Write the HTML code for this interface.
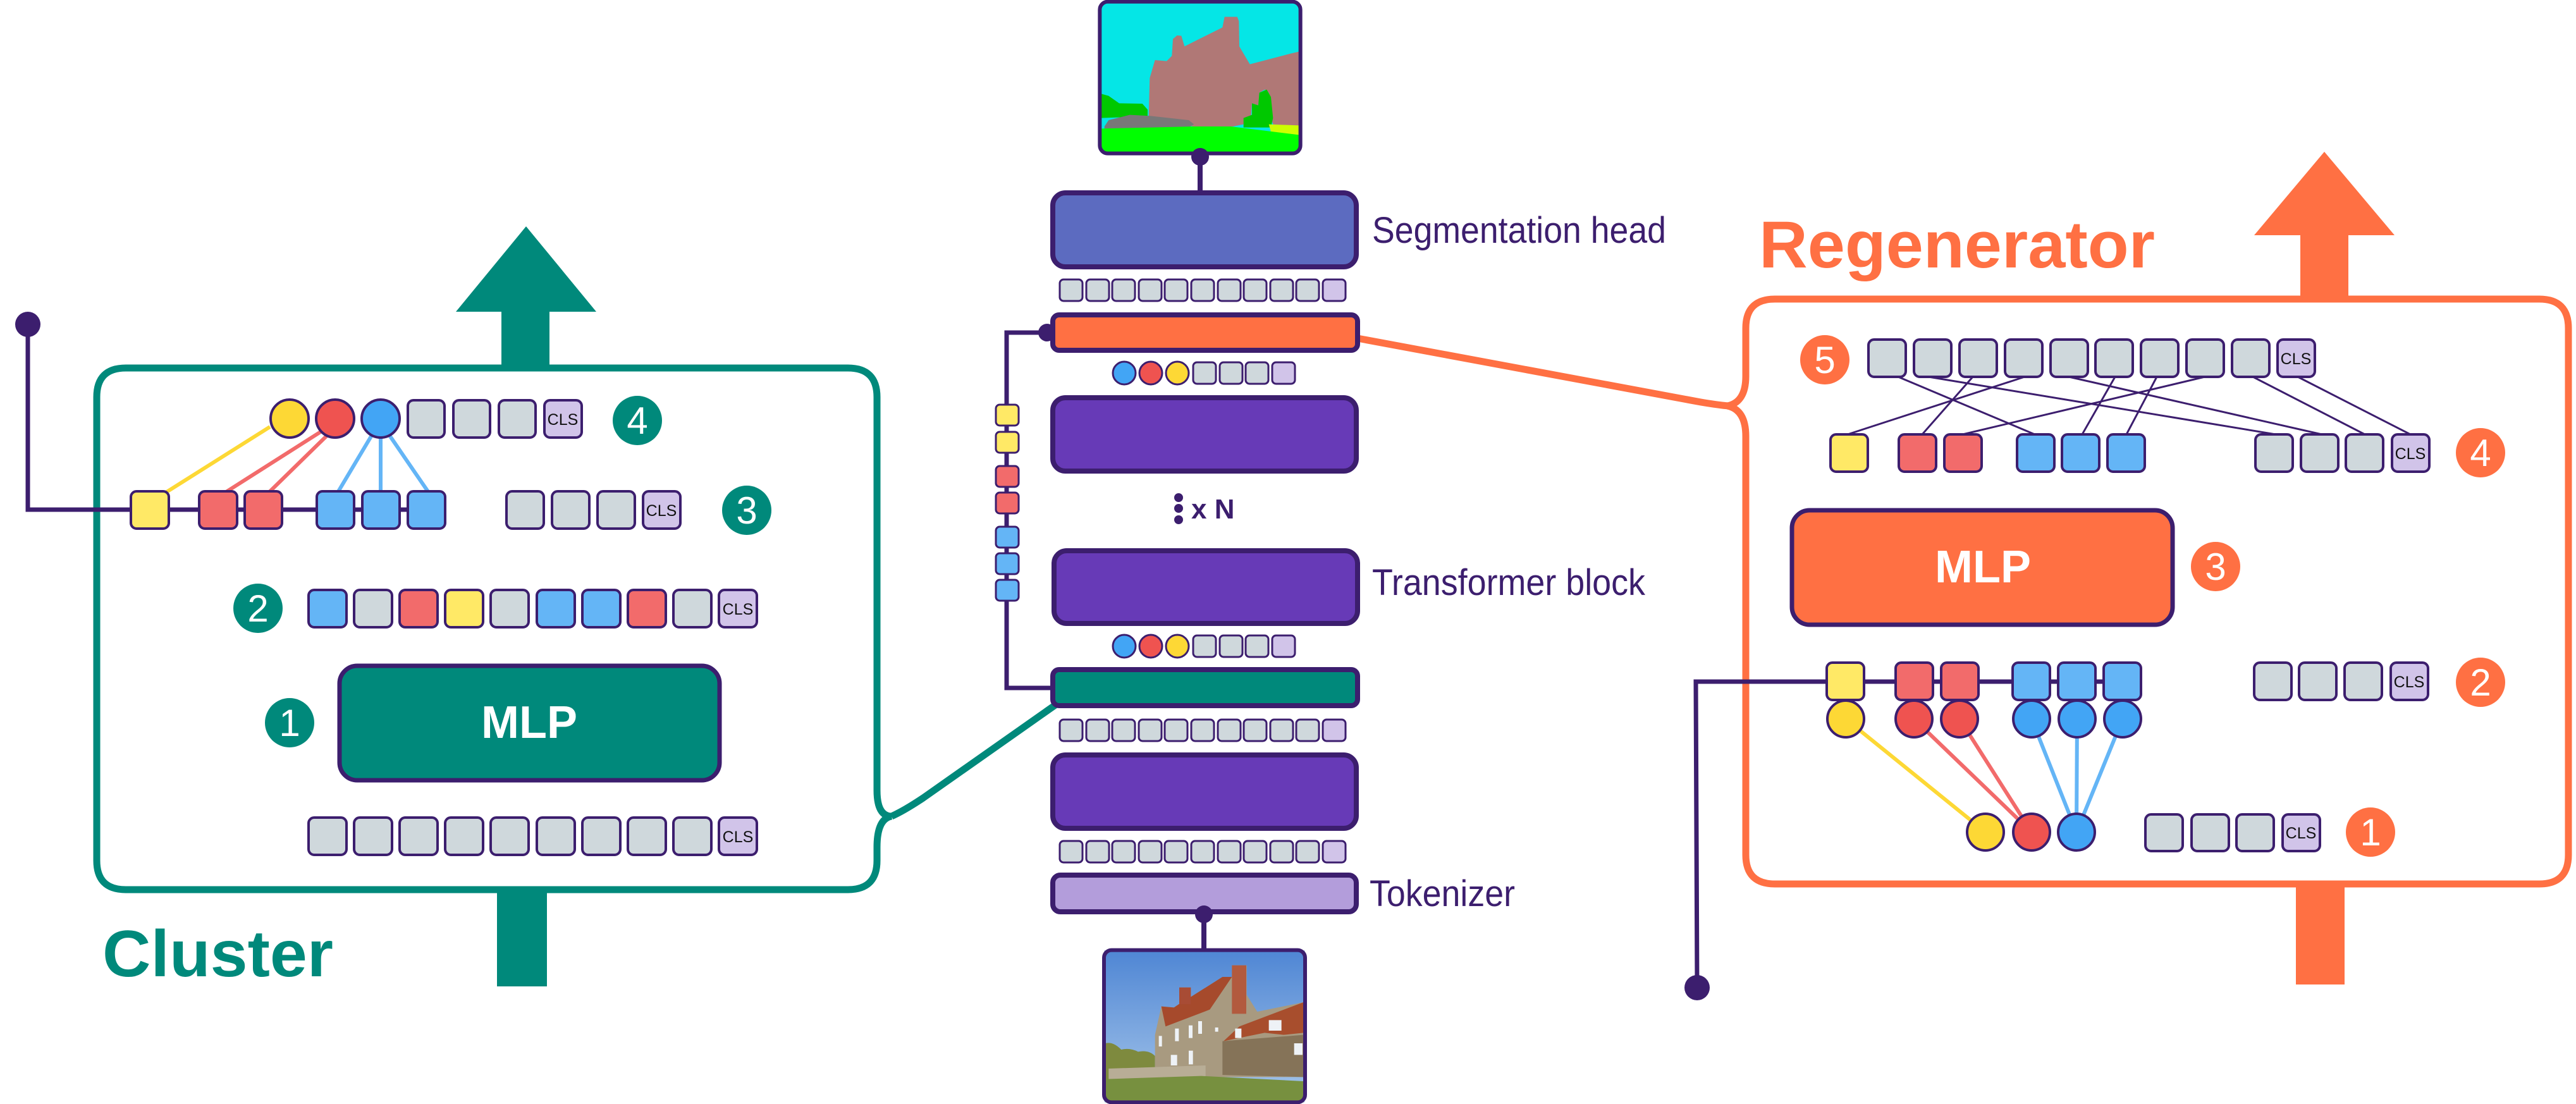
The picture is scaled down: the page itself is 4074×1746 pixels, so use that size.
<!DOCTYPE html>
<html><head><meta charset="utf-8"><style>
html,body{margin:0;padding:0;background:#fff;}
svg{display:block;}
text{font-family:"Liberation Sans",sans-serif;}
</style></head><body>
<svg width="4074" height="1746" viewBox="0 0 4074 1746" xmlns="http://www.w3.org/2000/svg">
<defs>
<linearGradient id="sky" x1="0" y1="0" x2="0" y2="1"><stop offset="0" stop-color="#4f86d4"/><stop offset="1" stop-color="#a6c6ea"/></linearGradient>
</defs>

<!-- ================= CENTER COLUMN ================= -->
<!-- segmentation image -->
<g transform="translate(1720,0) scale(0.33333)">
<rect x="65" y="15" width="940" height="710" fill="#05e6e6"/>
<polygon fill="#b07876" points="290,550 295,370 320,285 375,290 400,265 405,185 425,168 445,170 460,220 530,185 640,130 650,80 710,80 718,100 720,220 770,305 960,255 1003,245 1003,600 880,590 870,560 860,440 840,425 815,440 810,500 780,490 775,560 740,590 690,600 500,600"/>
<polygon fill="#00c800" points="65,445 100,455 150,490 260,492 285,520 285,550 200,555 65,560"/>
<polygon fill="#787878" points="80,600 100,570 200,545 300,550 480,570 505,590 480,605 80,615"/>
<polygon fill="#00c800" points="740,560 780,545 780,490 810,500 815,440 850,425 870,460 880,560 870,605 740,605"/>
<polygon fill="#ccff00" points="860,590 1003,595 1003,640 870,625"/>
<polygon fill="#00ff00" points="65,610 300,605 500,600 680,600 1003,640 1003,722 65,722"/>
<rect x="58" y="8" width="952" height="720" rx="38" fill="none" stroke="#3c1e6e" stroke-width="18"/>
</g>
<circle cx="1898" cy="248" r="14" fill="#3c1e6e"/>
<line x1="1898" y1="245" x2="1898" y2="305" stroke="#3c1e6e" stroke-width="8"/>

<!-- Segmentation head -->
<rect x="1665" y="305" width="480" height="117" rx="20" fill="#5c6bc0" stroke="#3c1e6e" stroke-width="8"/>
<text x="2170" y="384" font-size="58" fill="#3c1e6e" textLength="465" lengthAdjust="spacingAndGlyphs">Segmentation head</text>

<!-- token rows center -->
<g stroke="#3c1e6e" stroke-width="3">
<g fill="#cfd8dc">
<rect x="1676" y="442" width="36" height="34" rx="6"/><rect x="1718" y="442" width="36" height="34" rx="6"/><rect x="1759" y="442" width="36" height="34" rx="6"/><rect x="1801" y="442" width="36" height="34" rx="6"/><rect x="1842" y="442" width="36" height="34" rx="6"/><rect x="1884" y="442" width="36" height="34" rx="6"/><rect x="1926" y="442" width="36" height="34" rx="6"/><rect x="1967" y="442" width="36" height="34" rx="6"/><rect x="2009" y="442" width="36" height="34" rx="6"/><rect x="2050" y="442" width="36" height="34" rx="6"/>
<rect x="1676" y="1138" width="36" height="34" rx="6"/><rect x="1718" y="1138" width="36" height="34" rx="6"/><rect x="1759" y="1138" width="36" height="34" rx="6"/><rect x="1801" y="1138" width="36" height="34" rx="6"/><rect x="1842" y="1138" width="36" height="34" rx="6"/><rect x="1884" y="1138" width="36" height="34" rx="6"/><rect x="1926" y="1138" width="36" height="34" rx="6"/><rect x="1967" y="1138" width="36" height="34" rx="6"/><rect x="2009" y="1138" width="36" height="34" rx="6"/><rect x="2050" y="1138" width="36" height="34" rx="6"/>
<rect x="1676" y="1330" width="36" height="34" rx="6"/><rect x="1718" y="1330" width="36" height="34" rx="6"/><rect x="1759" y="1330" width="36" height="34" rx="6"/><rect x="1801" y="1330" width="36" height="34" rx="6"/><rect x="1842" y="1330" width="36" height="34" rx="6"/><rect x="1884" y="1330" width="36" height="34" rx="6"/><rect x="1926" y="1330" width="36" height="34" rx="6"/><rect x="1967" y="1330" width="36" height="34" rx="6"/><rect x="2009" y="1330" width="36" height="34" rx="6"/><rect x="2050" y="1330" width="36" height="34" rx="6"/>
<rect x="1887" y="573" width="36" height="34" rx="6"/><rect x="1929" y="573" width="36" height="34" rx="6"/><rect x="1970" y="573" width="36" height="34" rx="6"/>
<rect x="1887" y="1005" width="36" height="34" rx="6"/><rect x="1929" y="1005" width="36" height="34" rx="6"/><rect x="1970" y="1005" width="36" height="34" rx="6"/>
</g>
<g fill="#d1c4e9">
<rect x="2092" y="442" width="36" height="34" rx="6"/><rect x="2092" y="1138" width="36" height="34" rx="6"/><rect x="2092" y="1330" width="36" height="34" rx="6"/>
<rect x="2012" y="573" width="36" height="34" rx="6"/><rect x="2012" y="1005" width="36" height="34" rx="6"/>
</g>
<circle cx="1778" cy="590" r="18" fill="#42a5f5"/><circle cx="1820" cy="590" r="18" fill="#ef5350"/><circle cx="1862" cy="590" r="18" fill="#fdd835"/>
<circle cx="1778" cy="1022" r="18" fill="#42a5f5"/><circle cx="1820" cy="1022" r="18" fill="#ef5350"/><circle cx="1862" cy="1022" r="18" fill="#fdd835"/>
</g>

<!-- side bracket line with tokens -->
<polyline points="1663,526 1592,526 1592,1088 1663,1088" fill="none" stroke="#3c1e6e" stroke-width="7"/>
<circle cx="1656" cy="526" r="14" fill="#3c1e6e"/>
<g stroke="#3c1e6e" stroke-width="3">
<rect x="1575" y="640" width="36" height="33" rx="6" fill="#ffe966"/>
<rect x="1575" y="683" width="36" height="33" rx="6" fill="#ffe966"/>
<rect x="1575" y="737" width="36" height="33" rx="6" fill="#f26b6b"/>
<rect x="1575" y="779" width="36" height="33" rx="6" fill="#f26b6b"/>
<rect x="1575" y="833" width="36" height="33" rx="6" fill="#64b5f6"/>
<rect x="1575" y="875" width="36" height="33" rx="6" fill="#64b5f6"/>
<rect x="1575" y="917" width="36" height="33" rx="6" fill="#64b5f6"/>
</g>

<!-- connectors to side boxes -->
<path d="M2147,535 L2690,636 Q2720,641 2734,642" fill="none" stroke="#ff7043" stroke-width="11"/>
<path d="M1669,1115 L1460,1262 Q1430,1282 1410,1291" fill="none" stroke="#00897b" stroke-width="11"/>

<!-- orange bar -->
<rect x="1665" y="498" width="482" height="56" rx="10" fill="#ff7043" stroke="#3c1e6e" stroke-width="8"/>
<!-- purple box 1 -->
<rect x="1665" y="629" width="480" height="116" rx="20" fill="#673ab7" stroke="#3c1e6e" stroke-width="8"/>
<!-- x N -->
<circle cx="1864" cy="787" r="7" fill="#3c1e6e"/><circle cx="1864" cy="804" r="7" fill="#3c1e6e"/><circle cx="1864" cy="822" r="7" fill="#3c1e6e"/>
<text x="1884" y="820" font-size="44" font-weight="bold" fill="#3c1e6e">x N</text>
<!-- transformer -->
<rect x="1667" y="871" width="480" height="115" rx="20" fill="#673ab7" stroke="#3c1e6e" stroke-width="8"/>
<text x="2170" y="941" font-size="58" fill="#3c1e6e" textLength="432" lengthAdjust="spacingAndGlyphs">Transformer block</text>
<!-- green bar -->
<rect x="1665" y="1059" width="482" height="57" rx="10" fill="#00897b" stroke="#3c1e6e" stroke-width="8"/>
<!-- purple box 3 -->
<rect x="1665" y="1194" width="480" height="116" rx="20" fill="#673ab7" stroke="#3c1e6e" stroke-width="8"/>
<!-- tokenizer -->
<rect x="1665" y="1384" width="480" height="58" rx="12" fill="#b39ddb" stroke="#3c1e6e" stroke-width="8"/>
<text x="2166" y="1433" font-size="58" fill="#3c1e6e" textLength="230" lengthAdjust="spacingAndGlyphs">Tokenizer</text>
<circle cx="1904" cy="1446" r="14" fill="#3c1e6e"/>
<line x1="1904" y1="1446" x2="1904" y2="1505" stroke="#3c1e6e" stroke-width="8"/>

<!-- photo -->
<g transform="translate(1700,1490) scale(0.33333)">
<rect x="140" y="40" width="950" height="720" fill="url(#sky)"/>
<path d="M145,480 Q180,470 220,510 Q260,500 300,520 Q350,510 380,540 L380,660 L145,660 Z" fill="#7e8a3e"/>
<polygon points="380,590 380,440 410,305 470,310 500,290 500,215 550,215 550,260 700,165 745,165 745,110 815,110 815,250 865,330 1085,285 1085,640 380,640" fill="#a89a80"/>
<polygon points="410,305 470,310 500,290 550,260 700,165 745,165 640,320 430,400" fill="#a64a2c"/>
<polygon points="705,470 780,400 1085,285 1085,430 990,440 900,430" fill="#a84e2d"/>
<rect x="745" y="110" width="68" height="230" fill="#b25a3e"/>
<rect x="495" y="215" width="55" height="80" fill="#a84c35"/>
<polygon points="700,470 1085,440 1085,640 700,630" fill="#857358"/>
<polygon points="160,600 620,585 620,645 160,650" fill="#b8ad96"/>
<g fill="#eef2f6"><rect x="475" y="410" width="18" height="60"/><rect x="540" y="395" width="18" height="60"/><rect x="585" y="375" width="18" height="60"/><rect x="398" y="445" width="15" height="50"/><rect x="540" y="515" width="20" height="65"/><rect x="455" y="535" width="30" height="50"/><rect x="760" y="410" width="30" height="45"/><rect x="920" y="370" width="60" height="50"/><rect x="1040" y="480" width="40" height="55"/><rect x="665" y="405" width="15" height="20"/></g>
<polygon points="145,650 600,635 1085,660 1085,760 145,760" fill="#77903f"/>
<rect x="138" y="38" width="954" height="722" rx="36" fill="none" stroke="#3c1e6e" stroke-width="18"/>
</g>

<!-- ================= CLUSTER (LEFT) ================= -->
<path d="M199,582 L1341,582 Q1387,582 1387,628 L1387,1250 Q1387,1291 1410,1291 Q1387,1295 1387,1340 L1387,1361 Q1387,1407 1341,1407 L199,1407 Q153,1407 153,1361 L153,628 Q153,582 199,582 Z" fill="none" stroke="#00897b" stroke-width="11"/>
<rect x="793" y="490" width="76" height="95" fill="#00897b"/>
<polygon points="721,493 943,493 832,358" fill="#00897b"/>
<rect x="786" y="1410" width="79" height="150" fill="#00897b"/>
<text x="162" y="1544" font-size="104" font-weight="bold" fill="#00897b" textLength="365" lengthAdjust="spacingAndGlyphs">Cluster</text>

<!-- dark connector -->
<circle cx="44" cy="513" r="20" fill="#3c1e6e"/>
<polyline points="44,513 44,806 700,806" fill="none" stroke="#3c1e6e" stroke-width="7"/>

<!-- row 4 lines -->
<g stroke-width="6" fill="none">
<line x1="427" y1="675" x2="262" y2="779" stroke="#fdd835"/>
<line x1="507" y1="683" x2="356" y2="779" stroke="#f26b6b"/>
<line x1="516" y1="690" x2="425" y2="779" stroke="#f26b6b"/>
<line x1="587" y1="690" x2="534" y2="779" stroke="#64b5f6"/>
<line x1="602" y1="691" x2="602" y2="779" stroke="#64b5f6"/>
<line x1="617" y1="690" x2="678" y2="779" stroke="#64b5f6"/>
</g>

<g stroke="#3c1e6e" stroke-width="4">
<circle cx="458" cy="662" r="30" fill="#fdd835"/><circle cx="530" cy="662" r="30" fill="#ef5350"/><circle cx="602" cy="662" r="30" fill="#42a5f5"/>
<rect x="645" y="633" width="58" height="59" rx="9" fill="#cfd8dc"/><rect x="717" y="633" width="58" height="59" rx="9" fill="#cfd8dc"/><rect x="789" y="633" width="58" height="59" rx="9" fill="#cfd8dc"/><rect x="861" y="633" width="59" height="59" rx="9" fill="#d1c4e9"/>
<!-- row 3 -->
<rect x="207" y="777" width="60" height="59" rx="9" fill="#ffe966"/>
<rect x="315" y="777" width="60" height="59" rx="9" fill="#f26b6b"/><rect x="387" y="777" width="59" height="59" rx="9" fill="#f26b6b"/>
<rect x="501" y="777" width="59" height="59" rx="9" fill="#64b5f6"/><rect x="573" y="777" width="59" height="59" rx="9" fill="#64b5f6"/><rect x="645" y="777" width="59" height="59" rx="9" fill="#64b5f6"/>
<rect x="801" y="777" width="59" height="59" rx="9" fill="#cfd8dc"/><rect x="873" y="777" width="59" height="59" rx="9" fill="#cfd8dc"/><rect x="945" y="777" width="59" height="59" rx="9" fill="#cfd8dc"/><rect x="1017" y="777" width="59" height="59" rx="9" fill="#d1c4e9"/>
<!-- row 2 -->
<rect x="488" y="933" width="60" height="59" rx="9" fill="#64b5f6"/><rect x="560" y="933" width="60" height="59" rx="9" fill="#cfd8dc"/><rect x="632" y="933" width="60" height="59" rx="9" fill="#f26b6b"/><rect x="704" y="933" width="60" height="59" rx="9" fill="#ffe966"/><rect x="776" y="933" width="60" height="59" rx="9" fill="#cfd8dc"/><rect x="849" y="933" width="60" height="59" rx="9" fill="#64b5f6"/><rect x="921" y="933" width="60" height="59" rx="9" fill="#64b5f6"/><rect x="993" y="933" width="60" height="59" rx="9" fill="#f26b6b"/><rect x="1065" y="933" width="60" height="59" rx="9" fill="#cfd8dc"/><rect x="1137" y="933" width="60" height="59" rx="9" fill="#d1c4e9"/>
<!-- row 1 -->
<rect x="488" y="1293" width="60" height="59" rx="9" fill="#cfd8dc"/><rect x="560" y="1293" width="60" height="59" rx="9" fill="#cfd8dc"/><rect x="632" y="1293" width="60" height="59" rx="9" fill="#cfd8dc"/><rect x="704" y="1293" width="60" height="59" rx="9" fill="#cfd8dc"/><rect x="776" y="1293" width="60" height="59" rx="9" fill="#cfd8dc"/><rect x="849" y="1293" width="60" height="59" rx="9" fill="#cfd8dc"/><rect x="921" y="1293" width="60" height="59" rx="9" fill="#cfd8dc"/><rect x="993" y="1293" width="60" height="59" rx="9" fill="#cfd8dc"/><rect x="1065" y="1293" width="60" height="59" rx="9" fill="#cfd8dc"/><rect x="1137" y="1293" width="60" height="59" rx="9" fill="#d1c4e9"/>
</g>
<g font-size="25" text-anchor="middle" fill="#111">
<text x="890" y="672">CLS</text><text x="1046" y="816">CLS</text><text x="1167" y="972">CLS</text><text x="1167" y="1332">CLS</text>
</g>
<rect x="537" y="1053" width="601" height="181" rx="28" fill="#00897b" stroke="#3c1e6e" stroke-width="7"/>
<text x="837" y="1167" font-size="72" font-weight="bold" fill="#fff" text-anchor="middle">MLP</text>
<g fill="#00897b"><circle cx="1008" cy="665" r="39"/><circle cx="1181" cy="807" r="39"/><circle cx="408" cy="962" r="39"/><circle cx="458" cy="1143" r="39"/></g>
<g font-size="60" fill="#fff" text-anchor="middle">
<text x="1008" y="686">4</text><text x="1181" y="828">3</text><text x="408" y="983">2</text><text x="458" y="1164">1</text>
</g>

<!-- ================= REGENERATOR (RIGHT) ================= -->
<path d="M2807,473 L4016,473 Q4062,473 4062,519 L4062,1352 Q4062,1398 4016,1398 L2807,1398 Q2761,1398 2761,1352 L2761,690 Q2761,648 2732,642 Q2761,636 2761,595 L2761,519 Q2761,473 2807,473 Z" fill="none" stroke="#ff7043" stroke-width="11"/>
<rect x="3638" y="369" width="76" height="106" fill="#ff7043"/>
<polygon points="3565,372 3787,372 3676,240" fill="#ff7043"/>
<rect x="3631" y="1400" width="77" height="157" fill="#ff7043"/>
<text x="2782" y="423" font-size="105" font-weight="bold" fill="#ff7043" textLength="626" lengthAdjust="spacingAndGlyphs">Regenerator</text>

<!-- crossing lines -->
<g stroke="#3c1e6e" stroke-width="3">
<line x1="3002" y1="596" x2="3218" y2="687"/>
<line x1="3050" y1="596" x2="3599" y2="687"/>
<line x1="3120" y1="596" x2="3040" y2="687"/>
<line x1="3202" y1="596" x2="2922" y2="687"/>
<line x1="3272" y1="596" x2="3672" y2="687"/>
<line x1="3345" y1="596" x2="3293" y2="687"/>
<line x1="3411" y1="596" x2="3363" y2="687"/>
<line x1="3487" y1="596" x2="3104" y2="687"/>
<line x1="3563" y1="596" x2="3740" y2="687"/>
<line x1="3634" y1="596" x2="3812" y2="687"/>
</g>

<!-- bottom connector -->
<polyline points="3386,1078 2682,1078 2684,1562" fill="none" stroke="#3c1e6e" stroke-width="7"/>
<circle cx="2684" cy="1562" r="20" fill="#3c1e6e"/>

<g stroke-width="6">
<line x1="2919" y1="1137" x2="3140" y2="1316" stroke="#fdd835"/>
<line x1="3027" y1="1137" x2="3213" y2="1316" stroke="#f26b6b"/>
<line x1="3099" y1="1137" x2="3213" y2="1316" stroke="#f26b6b"/>
<line x1="3213" y1="1137" x2="3284" y2="1316" stroke="#64b5f6"/>
<line x1="3285" y1="1137" x2="3284" y2="1316" stroke="#64b5f6"/>
<line x1="3357" y1="1137" x2="3284" y2="1316" stroke="#64b5f6"/>
</g>

<g stroke="#3c1e6e" stroke-width="4">
<!-- row 5 -->
<rect x="2955" y="537" width="59" height="59" rx="9" fill="#cfd8dc"/><rect x="3027" y="537" width="59" height="59" rx="9" fill="#cfd8dc"/><rect x="3099" y="537" width="59" height="59" rx="9" fill="#cfd8dc"/><rect x="3171" y="537" width="59" height="59" rx="9" fill="#cfd8dc"/><rect x="3243" y="537" width="59" height="59" rx="9" fill="#cfd8dc"/><rect x="3314" y="537" width="59" height="59" rx="9" fill="#cfd8dc"/><rect x="3386" y="537" width="59" height="59" rx="9" fill="#cfd8dc"/><rect x="3458" y="537" width="59" height="59" rx="9" fill="#cfd8dc"/><rect x="3530" y="537" width="59" height="59" rx="9" fill="#cfd8dc"/><rect x="3602" y="537" width="59" height="59" rx="9" fill="#d1c4e9"/>
<!-- row 4 -->
<rect x="2895" y="687" width="59" height="59" rx="9" fill="#ffe966"/>
<rect x="3003" y="687" width="59" height="59" rx="9" fill="#f26b6b"/><rect x="3075" y="687" width="59" height="59" rx="9" fill="#f26b6b"/>
<rect x="3190" y="687" width="59" height="59" rx="9" fill="#64b5f6"/><rect x="3261" y="687" width="59" height="59" rx="9" fill="#64b5f6"/><rect x="3333" y="687" width="59" height="59" rx="9" fill="#64b5f6"/>
<rect x="3567" y="687" width="59" height="59" rx="9" fill="#cfd8dc"/><rect x="3639" y="687" width="59" height="59" rx="9" fill="#cfd8dc"/><rect x="3710" y="687" width="59" height="59" rx="9" fill="#cfd8dc"/><rect x="3783" y="687" width="59" height="59" rx="9" fill="#d1c4e9"/>
<!-- row 2 -->
<rect x="2889" y="1048" width="59" height="59" rx="9" fill="#ffe966"/>
<rect x="2998" y="1048" width="59" height="59" rx="9" fill="#f26b6b"/><rect x="3070" y="1048" width="59" height="59" rx="9" fill="#f26b6b"/>
<rect x="3183" y="1048" width="59" height="59" rx="9" fill="#64b5f6"/><rect x="3255" y="1048" width="59" height="59" rx="9" fill="#64b5f6"/><rect x="3327" y="1048" width="59" height="59" rx="9" fill="#64b5f6"/>
<rect x="3565" y="1048" width="59" height="59" rx="9" fill="#cfd8dc"/><rect x="3636" y="1048" width="59" height="59" rx="9" fill="#cfd8dc"/><rect x="3708" y="1048" width="59" height="59" rx="9" fill="#cfd8dc"/><rect x="3781" y="1048" width="59" height="59" rx="9" fill="#d1c4e9"/>
<!-- circles -->
<circle cx="2919" cy="1137" r="29" fill="#fdd835"/>
<circle cx="3027" cy="1137" r="29" fill="#ef5350"/><circle cx="3099" cy="1137" r="29" fill="#ef5350"/>
<circle cx="3213" cy="1137" r="29" fill="#42a5f5"/><circle cx="3285" cy="1137" r="29" fill="#42a5f5"/><circle cx="3357" cy="1137" r="29" fill="#42a5f5"/>
<circle cx="3140" cy="1316" r="29" fill="#fdd835"/><circle cx="3213" cy="1316" r="29" fill="#ef5350"/><circle cx="3284" cy="1316" r="29" fill="#42a5f5"/>
<!-- row 1 -->
<rect x="3393" y="1288" width="59" height="58" rx="9" fill="#cfd8dc"/><rect x="3466" y="1288" width="59" height="58" rx="9" fill="#cfd8dc"/><rect x="3537" y="1288" width="59" height="58" rx="9" fill="#cfd8dc"/><rect x="3610" y="1288" width="59" height="58" rx="9" fill="#d1c4e9"/>
</g>
<g font-size="25" text-anchor="middle" fill="#111">
<text x="3631" y="576">CLS</text><text x="3812" y="726">CLS</text><text x="3810" y="1087">CLS</text><text x="3639" y="1326">CLS</text>
</g>
<rect x="2834" y="807" width="602" height="181" rx="28" fill="#ff7043" stroke="#3c1e6e" stroke-width="7"/>
<text x="3136" y="921" font-size="72" font-weight="bold" fill="#fff" text-anchor="middle">MLP</text>
<g fill="#ff7043"><circle cx="2886" cy="569" r="39"/><circle cx="3923" cy="716" r="39"/><circle cx="3504" cy="896" r="39"/><circle cx="3923" cy="1079" r="39"/><circle cx="3749" cy="1316" r="39"/></g>
<g font-size="60" fill="#fff" text-anchor="middle">
<text x="2886" y="590">5</text><text x="3923" y="737">4</text><text x="3504" y="917">3</text><text x="3923" y="1100">2</text><text x="3749" y="1337">1</text>
</g>
</svg>
</body></html>
